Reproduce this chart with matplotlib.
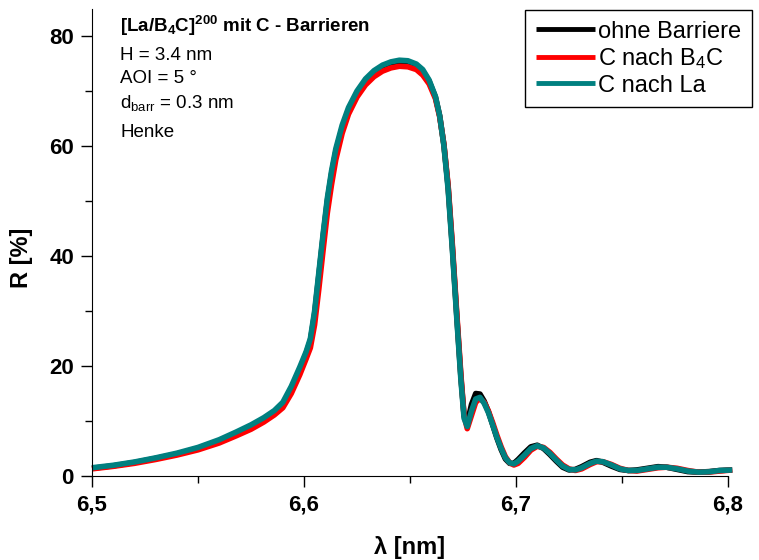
import numpy as np
import matplotlib.pyplot as plt
from matplotlib.ticker import MultipleLocator

plt.rcParams['font.family'] = 'Liberation Sans'
plt.rcParams['mathtext.fontset'] = 'custom'
plt.rcParams['mathtext.rm'] = 'Liberation Sans'
plt.rcParams['mathtext.it'] = 'Liberation Sans:italic'
plt.rcParams['mathtext.bf'] = 'Liberation Sans:bold'

# wavelength grid [nm]
lam = [6.500, 6.510, 6.520, 6.530, 6.540, 6.550, 6.560, 6.568, 6.575, 6.581,
       6.586, 6.590, 6.594, 6.598, 6.601, 6.603, 6.605, 6.607, 6.609, 6.611,
       6.613, 6.615, 6.618, 6.621, 6.625, 6.629, 6.633, 6.637, 6.641, 6.645,
       6.649, 6.653, 6.656, 6.659, 6.662, 6.664, 6.666, 6.668, 6.670, 6.672,
       6.674, 6.6755, 6.677, 6.679, 6.681, 6.683, 6.685, 6.687, 6.689, 6.691,
       6.693, 6.695, 6.697, 6.699, 6.701, 6.704, 6.707, 6.710, 6.713, 6.716,
       6.719, 6.722, 6.725, 6.728, 6.731, 6.735, 6.738, 6.741, 6.745, 6.749,
       6.753, 6.757, 6.762, 6.767, 6.771, 6.776, 6.781, 6.786, 6.791, 6.796,
       6.802]

# reflectivity [%]
r_ohne = [1.4, 1.85, 2.45, 3.2, 4.0, 5.05, 6.4, 7.75, 9.0, 10.3,
          11.6, 13.0, 15.9, 19.4, 22.3, 24.6, 29.5, 36.5, 43.5, 50.0,
          55.0, 59.0, 63.3, 66.6, 69.6, 71.8, 73.3, 74.3, 74.9, 75.2,
          75.1, 74.6, 73.6, 71.8, 68.9, 65.5, 60.2, 52.5, 41.5, 29.5,
          18.0, 11.0, 9.6, 13.0, 15.0, 14.9, 13.6, 11.7, 9.3, 6.9,
          4.8, 3.1, 2.3, 2.3, 3.0, 4.2, 5.3, 5.6, 5.0, 3.9,
          2.7, 1.6, 1.1, 1.2, 1.7, 2.5, 2.8, 2.5, 1.8, 1.2,
          1.0, 1.1, 1.4, 1.7, 1.6, 1.2, 0.8, 0.7, 0.8, 1.0,
          1.1]
r_b4c = [1.3, 1.75, 2.3, 3.0, 3.8, 4.75, 6.0, 7.3, 8.5, 9.8,
         11.1, 12.4, 15.0, 18.4, 21.3, 23.3, 27.5, 34.0, 41.0, 47.8,
         53.0, 57.5, 62.3, 65.8, 68.9, 71.1, 72.6, 73.6, 74.2, 74.5,
         74.4, 73.9, 72.9, 71.3, 68.6, 65.3, 60.3, 52.8, 42.0, 30.0,
         18.5, 11.0, 8.6, 11.0, 13.4, 14.1, 13.4, 11.8, 9.7, 7.4,
         5.3, 3.5, 2.4, 2.0, 2.3, 3.4, 4.7, 5.4, 5.2, 4.3,
         3.1, 2.0, 1.3, 1.0, 1.3, 2.1, 2.6, 2.6, 2.1, 1.4,
         1.0, 0.9, 1.2, 1.5, 1.6, 1.4, 1.0, 0.7, 0.7, 0.9,
         1.1]
r_la = [1.5, 1.95, 2.55, 3.3, 4.15, 5.2, 6.6, 8.0, 9.3, 10.6,
        11.9, 13.4, 16.3, 19.8, 22.6, 25.0, 30.0, 37.0, 44.0, 50.5,
        55.5, 59.5, 63.8, 67.0, 70.0, 72.2, 73.7, 74.7, 75.3, 75.6,
        75.5, 74.9, 73.9, 72.0, 69.0, 65.5, 60.0, 52.0, 41.0, 29.0,
        17.5, 10.5, 9.0, 11.8, 14.0, 14.3, 13.2, 11.5, 9.3, 7.0,
        5.0, 3.3, 2.4, 2.2, 2.7, 3.8, 5.0, 5.5, 5.1, 4.1,
        2.9, 1.8, 1.2, 1.1, 1.5, 2.3, 2.7, 2.6, 2.0, 1.3,
        1.0, 1.0, 1.3, 1.6, 1.6, 1.3, 0.9, 0.7, 0.75, 1.0,
        1.1]

x_ticks = [6.5, 6.6, 6.7, 6.8]
x_labels = ['6,5', '6,6', '6,7', '6,8']
y_ticks = [0, 20, 40, 60, 80]

fig = plt.figure(figsize=(7.59, 5.60), dpi=100)
ax = fig.add_axes([92/759, 1-476/560, 636/759, 467.5/560])

line_kw = dict(lw=4, clip_on=False, solid_joinstyle='round', solid_capstyle='butt')
ax.plot(lam, r_ohne, color='black', label='ohne Barriere', **line_kw)
ax.plot(lam, r_b4c, color='#ff0000', label='C nach B$_4$C', **line_kw)
ax.plot(lam, r_la, color='#008080', label='C nach La', **line_kw)

ax.set_xlim(6.5, 6.8)
ax.set_ylim(0, 85)
ax.set_xticks(x_ticks)
ax.set_xticklabels(x_labels)
ax.set_yticks(y_ticks)
ax.xaxis.set_minor_locator(MultipleLocator(0.05))
ax.yaxis.set_minor_locator(MultipleLocator(10))
ax.tick_params(which='major', direction='out', length=8, width=1, labelsize=16, pad=5)
ax.tick_params(which='minor', direction='out', length=5, width=1)
for t in ax.get_xticklabels() + ax.get_yticklabels():
    t.set_fontweight('bold')
ax.spines['top'].set_visible(False)
ax.spines['right'].set_visible(False)

ax.set_xlabel('λ [nm]', fontsize=17, fontweight='bold')
ax.xaxis.set_label_coords(0.5, -0.128)
ax.set_ylabel('R [%]', fontsize=17, fontweight='bold')
ax.yaxis.set_label_coords(-0.093, 0.466)

# sample parameters
fig.text(120/759, 1-32/560, r'[La/B$_\mathbf{4}$C]$^\mathbf{200}$ mit C - Barrieren',
         fontsize=13.5, fontweight='bold', va='baseline')
fig.text(120/759, 1-60/560, 'H = 3.4 nm', fontsize=13.5, va='baseline')
fig.text(120/759, 1-83/560, 'AOI = 5 °', fontsize=13.5, va='baseline')
fig.text(120/759, 1-108/560, r'd$_\mathrm{barr}$ = 0.3 nm', fontsize=13.5, va='baseline')
fig.text(120/759, 1-137/560, 'Henke', fontsize=13.5, va='baseline')

leg = fig.legend(loc='upper right', bbox_to_anchor=(752/759, 1-10/560),
                 fontsize=17, frameon=True, fancybox=False, framealpha=1,
                 edgecolor='black', borderpad=0.45, labelspacing=0.15,
                 handlelength=2.5, handletextpad=0.15, borderaxespad=0)
leg.get_frame().set_linewidth(1)
for h in leg.get_lines():
    h.set_linewidth(3.5)

fig.savefig('out.png', dpi=100)
